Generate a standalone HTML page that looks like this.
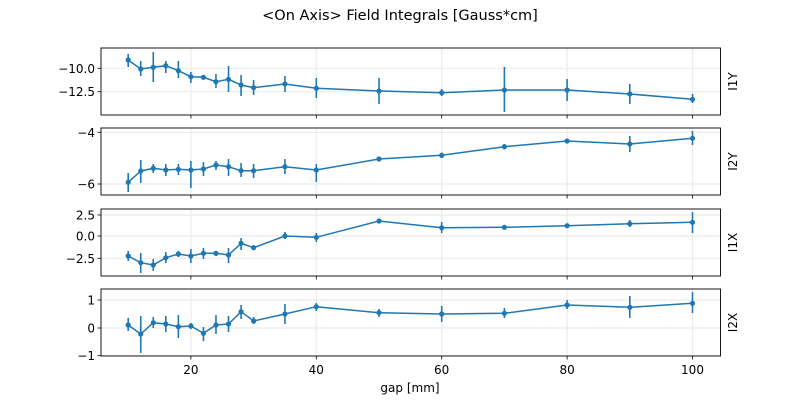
<!DOCTYPE html>
<html><head><meta charset="utf-8"><style>
html,body{margin:0;padding:0;background:#fff;}
svg{display:block;font-family:"DejaVu Sans","Liberation Sans",sans-serif;}
</style></head><body>
<svg id="s" width="800" height="400" xmlns="http://www.w3.org/2000/svg">
<text x="400" y="20" font-size="14.5" text-anchor="middle">&lt;On Axis&gt; Field Integrals [Gauss*cm]</text>
<text x="410" y="392" font-size="12" text-anchor="middle">gap [mm]</text>
<g id="g"></g>
</svg>
<script>
var ns="http://www.w3.org/2000/svg",G=document.getElementById('g');
function el(t,a,txt){var e=document.createElementNS(ns,t);for(var k in a)e.setAttribute(k,a[k]);if(txt!==undefined)e.textContent=txt;G.appendChild(e);return e;}
var gaps=[10,12,14,16,18,20,22,24,26,28,30,35,40,50,60,70,80,90,100];
function X(g){return 65.5+6.27*g;}
var L=101,R=720.5;
var panels=[
 {t:48,b:115,lab:"I1Y",ticks:[[68.3,"−10.0"],[91.7,"−12.5"]],
  d:[[60,54,67],[69,61,76],[67.3,52,82],[65.7,61,73],[70.7,61,78],[76.7,72,83],[77.3,75.5,79],[81.7,74,88],[79.3,66,92],[85,75,96],[87.7,80,95],[84,76,92],[88.3,78,98],[91,78,104],[92.7,89,96],[90,67,112],[90,79,101],[94,84,104],[99.3,94,103]]},
 {t:128,b:195,lab:"I2Y",ticks:[[132.3,"−4"],[184,"−6"]],
  d:[[182.3,173,192],[171,160,183],[168.3,164,173],[170,164,176],[169.3,164,175],[170,161,188],[169,162,176],[165,161,170],[166.7,159,176],[170.7,163,177],[170.7,164,178],[166.7,159,174],[170,164,182],[159,157,161],[155.3,152.5,158],[146.7,144,149.5],[141,139,143],[144,136,152],[138.3,131,145]]},
 {t:209,b:276,lab:"I1X",ticks:[[215,"2.5"],[236,"0.0"],[258.3,"−2.5"]],
  d:[[256,251,261],[262.7,253,273],[265,259,271],[257.7,252,263],[254,251,257],[256,249,263],[253.3,248,259],[253.3,251,256],[255,248,263],[243.3,238,250],[247.7,246,249.5],[236,232,239],[237.3,233,242],[221,219.5,222.5],[227.7,222,233],[227.3,225,229.5],[225.7,223.5,228],[223.7,220,227],[222.3,212,233]]},
 {t:289,b:356,lab:"I2X",ticks:[[300,"1"],[328,"0"],[355.7,"−1"]],
  d:[[325,318,331],[334,316,353],[322.7,317,328],[324,316,332],[326.7,315,338],[326,323,329],[333.3,327,341],[325,315,334],[324,316,332],[311.7,305,319],[321,317,324],[314,304,324],[306.7,303,311],[312.7,309,317],[314,306,322],[313.3,308,318],[305,300,309],[307.3,296,318],[303.3,292,313]]}
];
panels.forEach(function(p,i){
  // grid
  [20,40,60,80,100].forEach(function(g){el('line',{x1:X(g),x2:X(g),y1:p.t,y2:p.b,stroke:'#ebebeb','stroke-width':1.2});});
  p.ticks.forEach(function(tk){
    el('line',{x1:L,x2:R,y1:tk[0],y2:tk[0],stroke:'#ebebeb','stroke-width':1.2});
    el('line',{x1:L-3.5,x2:L,y1:tk[0],y2:tk[0],stroke:'#000','stroke-width':0.8});
    el('text',{x:L-6,y:tk[0]+4.5,'font-size':12,'text-anchor':'end'},tk[1]);
  });
  [20,40,60,80,100].forEach(function(g){el('line',{x1:X(g),x2:X(g),y1:p.b,y2:p.b+3.5,stroke:'#000','stroke-width':0.8});});
  // series
  var pts=p.d.map(function(v,j){return X(gaps[j]).toFixed(1)+','+v[0];}).join(' ');
  p.d.forEach(function(v,j){el('line',{x1:X(gaps[j]),x2:X(gaps[j]),y1:v[1],y2:v[2],stroke:'#1f77b4','stroke-width':1.6});});
  el('polyline',{points:pts,fill:'none',stroke:'#1f77b4','stroke-width':1.5});
  p.d.forEach(function(v,j){el('circle',{cx:X(gaps[j]),cy:v[0],r:2.6,fill:'#1f77b4'});});
  el('rect',{x:L,y:p.t,width:R-L,height:p.b-p.t,fill:'none',stroke:'#000','stroke-width':0.9});
  var cy=(p.t+p.b)/2;
  el('text',{x:737,y:cy,'font-size':12,'text-anchor':'middle',transform:'rotate(-90 737 '+cy+')'},p.lab);
});
[20,40,60,80,100].forEach(function(g){el('text',{x:X(g),y:374,'font-size':12,'text-anchor':'middle'},String(g));});
</script>
</body></html>
